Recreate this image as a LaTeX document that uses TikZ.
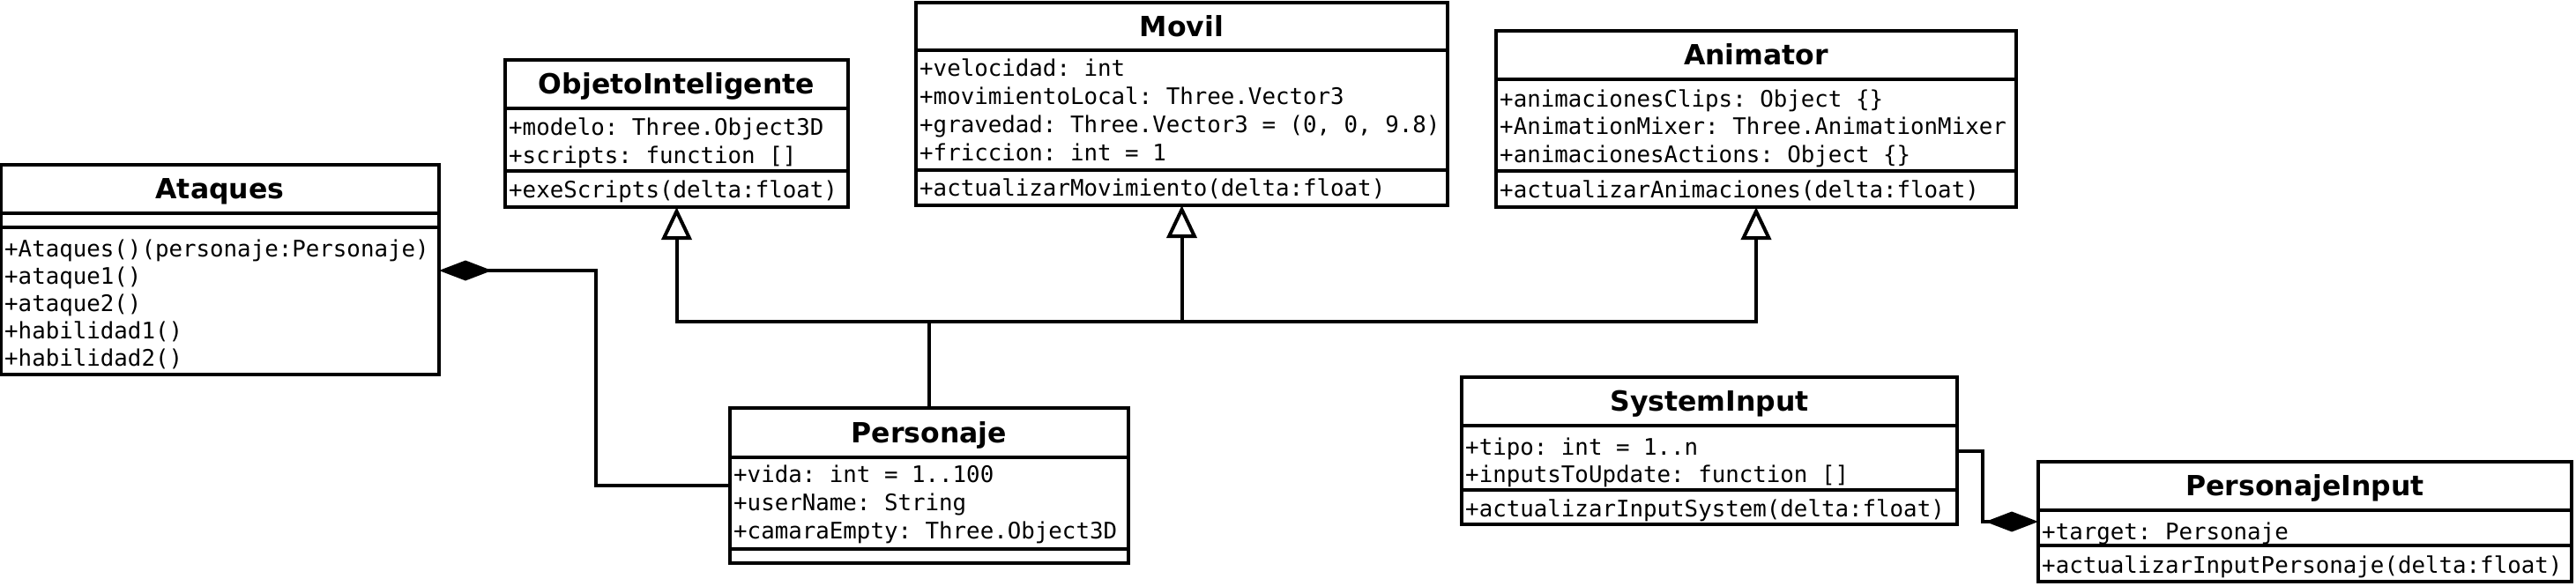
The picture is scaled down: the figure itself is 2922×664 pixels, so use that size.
\documentclass[tikz,border=0pt]{standalone}
\usepackage{fontspec}
\newfontfamily\ttlfont{DejaVu Sans}
\newfontfamily\memfont{DejaVu Sans Mono}
\usetikzlibrary{arrows.meta}
\frenchspacing
\begin{document}
\begin{tikzpicture}[x=1pt,y=-1pt,
  cls/.style={draw=black, line width=4pt, inner sep=0pt, outer sep=0pt, anchor=north west},
  sepline/.style={line width=4pt},
  ttl/.style={font=\ttlfont\bfseries\fontsize{31.5}{36}\selectfont, inner sep=0pt, text height=23pt, text depth=0pt, anchor=center},
  mem/.style={font=\memfont\fontsize{25.8}{30}\selectfont\frenchspacing, inner sep=0pt, text height=18.8pt, text depth=0pt, anchor=west},
  conn/.style={line width=4pt},
  gen/.style={conn, -{Triangle[open, length=37pt, width=34pt, line width=4pt]}},
  comp/.style={conn, -{Diamond[length=60pt, width=23pt]}}]
\useasboundingbox[fill=white] (0,0) rectangle (2922,664);

% Ataques
\node[cls, minimum width=497pt, minimum height=238pt] (ata) at (1,187) {};
\draw[sepline] (ata.west |- 0,242) -- (ata.east |- 0,242);
\draw[sepline] (ata.west |- 0,258) -- (ata.east |- 0,258);
\node[ttl] (ataT) at (ata.north |- 0,214) {Ataques};
\node[mem] (ata1) at (5,282) {+Ataques()(personaje:Personaje)};
\node[mem] (ata2) at (5,313) {+ataque1()};
\node[mem] (ata3) at (5,344) {+ataque2()};
\node[mem] (ata4) at (5,375) {+habilidad1()};
\node[mem] (ata5) at (5,406) {+habilidad2()};

% ObjetoInteligente
\node[cls, minimum width=389pt, minimum height=167pt] (obj) at (573,68) {};
\draw[sepline] (obj.west |- 0,123) -- (obj.east |- 0,123);
\draw[sepline] (obj.west |- 0,194) -- (obj.east |- 0,194);
\node[ttl] (objT) at (obj.north |- 0,95) {ObjetoInteligente};
\node[mem] (obj1) at (577,144) {+modelo: Three.Object3D};
\node[mem] (obj2) at (577,176) {+scripts: function []};
\node[mem] (obj3) at (577,215) {+exeScripts(delta:float)};

% Movil
\node[cls, minimum width=603pt, minimum height=230pt] (mov) at (1039,3) {};
\draw[sepline] (mov.west |- 0,57) -- (mov.east |- 0,57);
\draw[sepline] (mov.west |- 0,193) -- (mov.east |- 0,193);
\node[ttl] (movT) at (mov.north |- 0,30) {Movil};
\node[mem] (mov1) at (1043,77) {+velocidad: int};
\node[mem] (mov2) at (1043,109) {+movimientoLocal: Three.Vector3};
\node[mem] (mov3) at (1043,141) {+gravedad: Three.Vector3 = (0, 0, 9.8)};
\node[mem] (mov4) at (1043,173) {+friccion: int = 1};
\node[mem] (mov5) at (1043,213) {+actualizarMovimiento(delta:float)};

% Animator
\node[cls, minimum width=590pt, minimum height=200pt] (ani) at (1697,35) {};
\draw[sepline] (ani.west |- 0,90) -- (ani.east |- 0,90);
\draw[sepline] (ani.west |- 0,194) -- (ani.east |- 0,194);
\node[ttl] (aniT) at (ani.north |- 0,62) {Animator};
\node[mem] (ani1) at (1701,112) {+animacionesClips: Object \{\}};
\node[mem] (ani2) at (1701,143) {+AnimationMixer: Three.AnimationMixer};
\node[mem] (ani3) at (1701,175) {+animacionesActions: Object \{\}};
\node[mem] (ani4) at (1701,215) {+actualizarAnimaciones(delta:float)};

% Personaje
\node[cls, minimum width=452pt, minimum height=176pt] (per) at (828,463) {};
\draw[sepline] (per.west |- 0,519) -- (per.east |- 0,519);
\draw[sepline] (per.west |- 0,623) -- (per.east |- 0,623);
\node[ttl] (perT) at (per.north |- 0,491) {Personaje};
\node[mem] (per1) at (832,538) {+vida: int = 1..100};
\node[mem] (per2) at (832,570) {+userName: String};
\node[mem] (per3) at (832,602) {+camaraEmpty: Three.Object3D};

% SystemInput
\node[cls, minimum width=562pt, minimum height=167pt] (sys) at (1658,428) {};
\draw[sepline] (sys.west |- 0,483) -- (sys.east |- 0,483);
\draw[sepline] (sys.west |- 0,556) -- (sys.east |- 0,556);
\node[ttl] (sysT) at (sys.north |- 0,455) {SystemInput};
\node[mem] (sys1) at (1662,507) {+tipo: int = 1..n};
\node[mem] (sys2) at (1662,538) {+inputsToUpdate: function []};
\node[mem] (sys3) at (1662,577) {+actualizarInputSystem(delta:float)};

% PersonajeInput
\node[cls, minimum width=605pt, minimum height=136pt] (pin) at (2312,524) {};
\draw[sepline] (pin.west |- 0,579) -- (pin.east |- 0,579);
\draw[sepline] (pin.west |- 0,619) -- (pin.east |- 0,619);
\node[ttl] (pinT) at (pin.north |- 0,551) {PersonajeInput};
\node[mem] (pin1) at (2316,603) {+target: Personaje};
\node[mem] (pin2) at (2316,641) {+actualizarInputPersonaje(delta:float)};

% Generalization
\coordinate (j) at (per.north |- 0,365);
\draw[conn] (per.north) -- (j);
\draw[gen] (j) -| (obj.south);
\draw[gen] (j) -| (mov.south);
\draw[gen] (j) -| (ani.south);

% Compositions
\coordinate (c1) at (676,307);
\draw[comp] (per.west) -| (c1) -- (ata.east |- c1);
\coordinate (c2) at (2249,512);
\draw[comp] (sys.east |- c2) -- (c2) |- (pin.west);
\end{tikzpicture}
\end{document}
